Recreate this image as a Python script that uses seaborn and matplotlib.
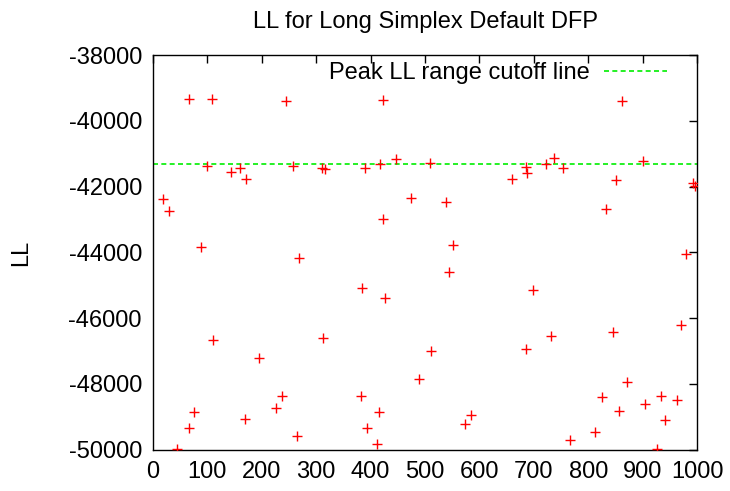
import matplotlib
matplotlib.use("Agg")
import matplotlib.pyplot as plt
import seaborn as sns
import pandas as pd

iteration = [19, 29, 45, 66, 67, 75, 88, 99, 108, 110, 143, 159, 170, 171, 194,
             226, 238, 244, 257, 264, 269, 310, 312, 317, 382, 384, 389, 393, 411,
             415, 418, 422, 423, 427, 446, 474, 489, 509, 511, 538, 544, 552, 574,
             585, 659, 685, 686, 687, 698, 723, 732, 738, 753, 767, 813, 825, 832,
             846, 852, 857, 862, 871, 900, 904, 927, 933, 941, 964, 971, 979, 993, 996]
ll = [-42370, -42730, -49975, -39330, -49355, -48850, -43840, -41360, -39330, -46670,
      -41540, -41430, -49080, -41770, -47220, -48750, -48380, -39400, -41360, -49580,
      -44180, -41430, -46600, -41450, -48380, -45085, -41440, -49355, -49830, -48870,
      -41320, -39370, -42980, -45400, -41160, -42345, -47860, -41290, -46990, -42470,
      -44605, -43770, -49215, -48950, -41770, -41390, -46950, -41570, -45150, -41320,
      -46555, -41120, -41420, -49710, -49470, -48390, -42680, -46420, -41790, -48840,
      -39400, -47955, -41220, -48615, -49975, -48380, -49110, -48500, -46220, -44050,
      -41900, -41980]
cutoff = -41300
title = "LL for Long Simplex Default DFP"
legend_label = "Peak LL range cutoff line"
ylabel = "LL"

sns.set_style("white")
plt.rcParams['font.family'] = ['Liberation Sans', 'DejaVu Sans']
plt.rcParams['axes.unicode_minus'] = False
plt.rcParams['text.color'] = 'black'
plt.rcParams['axes.labelcolor'] = 'black'

df = pd.DataFrame({"iteration": iteration, "LL": ll})

fig = plt.figure(figsize=(7.3, 4.91), dpi=100)
ax = fig.add_axes([0.2096, 0.0845, 0.7452, 0.8029])

sns.scatterplot(data=df, x="iteration", y="LL", marker="+", color="#ff0000",
                s=45, linewidth=1.0, ax=ax, legend=False, zorder=3)
ax.axhline(cutoff, color="#00ee00", linestyle=(0, (3, 2)), linewidth=1.2,
           label=legend_label, zorder=2)

ax.set_xlim(0, 1000)
ax.set_ylim(-50000, -38000)
ax.set_xticks(range(0, 1001, 100))
ax.set_yticks(range(-50000, -37999, 2000))
ax.tick_params(direction="in", top=True, right=True, length=6, width=1,
               labelsize=17, colors="black", pad=8)
for sp in ax.spines.values():
    sp.set_visible(True)
    sp.set_color("black")
    sp.set_linewidth(1.0)

ax.set_xlabel("")
ax.set_ylabel(ylabel, fontsize=17, labelpad=26, color="black")
ax.set_title(title, fontsize=17, pad=20, color="black")

leg = ax.legend(loc="upper right", frameon=False, markerfirst=False,
                fontsize=17, handlelength=2.7, borderaxespad=0.05,
                bbox_to_anchor=(0.965, 1.01), handletextpad=0.6)
for t in leg.get_texts():
    t.set_color("black")

fig.savefig("out.png", dpi=100)
